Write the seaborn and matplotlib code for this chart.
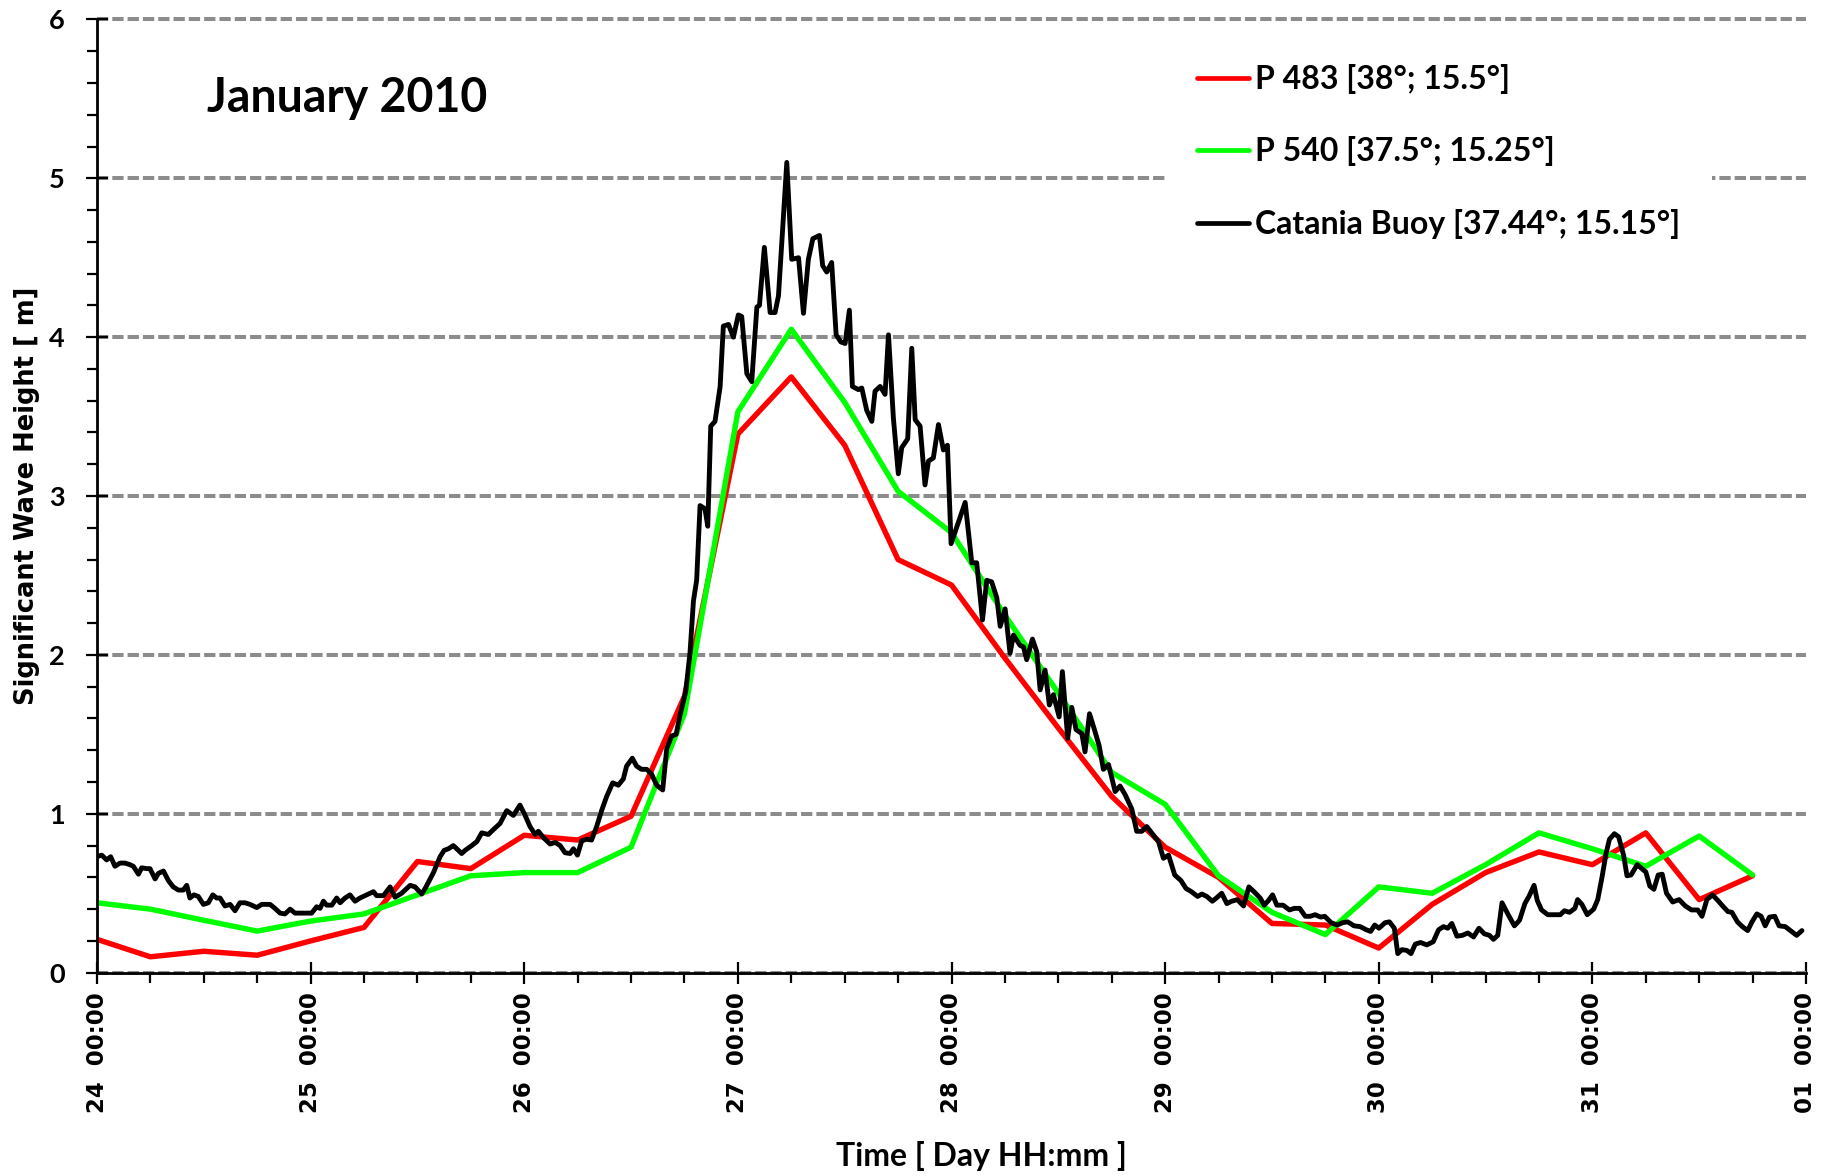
import matplotlib
matplotlib.use("Agg")
import matplotlib.pyplot as plt
from matplotlib.ticker import MultipleLocator, FixedLocator
import seaborn as sns
import pandas as pd

# ---------------- data ----------------
tick_labels = ["24  00:00", "25  00:00", "26  00:00", "27  00:00", "28  00:00",
               "29  00:00", "30  00:00", "31  00:00", "01  00:00"]

# model output every 6 h (days since 24 Jan 00:00)
model_day = [0.0, 0.25, 0.5, 0.75, 1.0, 1.25, 1.5, 1.75, 2.0, 2.25, 2.5, 2.75,
             3.0, 3.25, 3.5, 3.75, 4.0, 4.25, 4.5, 4.75, 5.0, 5.25, 5.5, 5.75,
             6.0, 6.25, 6.5, 6.75, 7.0, 7.25, 7.5, 7.75]
p483 = [0.21, 0.10, 0.135, 0.11, 0.20, 0.285, 0.70, 0.655, 0.865, 0.835, 0.985, 1.74,
        3.39, 3.75, 3.32, 2.60, 2.44, 1.98, 1.54, 1.11, 0.79, 0.60, 0.31, 0.30,
        0.155, 0.43, 0.63, 0.76, 0.68, 0.88, 0.46, 0.61]
p540 = [0.44, 0.40, 0.33, 0.262, 0.325, 0.37, 0.49, 0.61, 0.63, 0.63, 0.79, 1.63,
        3.53, 4.05, 3.59, 3.03, 2.77, 2.25, 1.76, 1.26, 1.06, 0.61, 0.38, 0.24,
        0.54, 0.50, 0.68, 0.88, 0.78, 0.67, 0.86, 0.615]

buoy_day = [0.000, 0.022, 0.045, 0.064, 0.084, 0.108, 0.131, 0.154, 0.170, 0.194,
            0.209, 0.233, 0.248, 0.272, 0.287, 0.311, 0.334, 0.357, 0.381, 0.404,
            0.420, 0.435, 0.454, 0.474, 0.498, 0.521, 0.542, 0.560, 0.576, 0.599,
            0.623, 0.646, 0.669, 0.693, 0.716, 0.748, 0.771, 0.810, 0.833, 0.857,
            0.880, 0.904, 0.927, 0.950, 0.982, 1.005, 1.028, 1.044, 1.060, 1.075,
            1.099, 1.122, 1.138, 1.161, 1.184, 1.208, 1.231, 1.262, 1.294, 1.309,
            1.341, 1.372, 1.395, 1.426, 1.466, 1.489, 1.520, 1.536, 1.575, 1.606,
            1.625, 1.645, 1.668, 1.684, 1.707, 1.723, 1.754, 1.778, 1.801, 1.832,
            1.855, 1.887, 1.918, 1.949, 1.980,
            2.004, 2.027, 2.051, 2.066, 2.090, 2.121, 2.145, 2.168, 2.191, 2.215,
            2.230, 2.249, 2.269, 2.292, 2.315, 2.339, 2.362, 2.386, 2.414, 2.440,
            2.464, 2.479, 2.506, 2.526, 2.549, 2.573, 2.596, 2.620, 2.648, 2.667,
            2.690, 2.711, 2.729, 2.756, 2.776, 2.792, 2.807, 2.823, 2.846, 2.859,
            2.873, 2.893, 2.917, 2.932, 2.956, 2.979, 3.002, 3.018, 3.042, 3.065,
            3.089, 3.101, 3.124, 3.151, 3.174, 3.190, 3.229, 3.252, 3.284, 3.307,
            3.330, 3.351, 3.382, 3.397, 3.416, 3.439, 3.460, 3.482, 3.502, 3.522,
            3.536, 3.564, 3.580, 3.603, 3.627, 3.642, 3.666, 3.689, 3.705, 3.728,
            3.751, 3.767, 3.795, 3.814, 3.830, 3.853, 3.876, 3.892, 3.915, 3.939,
            3.962, 3.981,
            3.998, 4.064, 4.095, 4.118, 4.145, 4.165, 4.188, 4.212, 4.228, 4.251,
            4.274, 4.290, 4.321, 4.337, 4.352, 4.379, 4.399, 4.415, 4.438, 4.458,
            4.477, 4.504, 4.519, 4.544, 4.563, 4.583, 4.610, 4.625, 4.646, 4.669,
            4.691, 4.711, 4.735, 4.766, 4.789, 4.813, 4.844, 4.867, 4.891, 4.914,
            4.937, 4.969, 4.992, 5.016,
            5.045, 5.074, 5.098, 5.123, 5.152, 5.172, 5.195, 5.221, 5.240, 5.265,
            5.289, 5.312, 5.338, 5.367, 5.392, 5.416, 5.445, 5.464, 5.484, 5.503,
            5.523, 5.552, 5.582, 5.605, 5.630, 5.656, 5.679, 5.702, 5.728, 5.747,
            5.777, 5.806, 5.831, 5.855, 5.884, 5.913, 5.942, 5.962, 5.981, 6.001,
            6.030, 6.050, 6.073, 6.089, 6.108, 6.132, 6.151, 6.171, 6.196, 6.225,
            6.255, 6.280, 6.303, 6.323, 6.342, 6.366, 6.391, 6.417, 6.444, 6.469,
            6.494, 6.518, 6.537, 6.557, 6.577, 6.606, 6.635, 6.659, 6.684, 6.703,
            6.727, 6.742, 6.762, 6.791, 6.821, 6.850, 6.869, 6.893, 6.918, 6.931,
            6.951, 6.976, 7.006, 7.025, 7.045, 7.064, 7.080, 7.103, 7.123, 7.146,
            7.162, 7.181, 7.210, 7.240, 7.250, 7.269, 7.288, 7.308, 7.327, 7.347,
            7.376, 7.406, 7.435, 7.464, 7.493, 7.513, 7.536, 7.562, 7.587, 7.610,
            7.634, 7.653, 7.679, 7.702, 7.727, 7.747, 7.770, 7.790, 7.809, 7.829,
            7.854, 7.874, 7.903, 7.927, 7.956, 7.981]
buoy_hs = [0.73, 0.74, 0.71, 0.73, 0.67, 0.69, 0.69, 0.68, 0.67, 0.62,
           0.66, 0.655, 0.655, 0.59, 0.625, 0.64, 0.58, 0.54, 0.52, 0.52,
           0.55, 0.47, 0.49, 0.48, 0.43, 0.44, 0.49, 0.47, 0.47, 0.42,
           0.43, 0.39, 0.44, 0.44, 0.43, 0.41, 0.43, 0.43, 0.405, 0.375,
           0.37, 0.40, 0.375, 0.375, 0.375, 0.375, 0.415, 0.405, 0.45, 0.425,
           0.425, 0.47, 0.44, 0.47, 0.49, 0.45, 0.47, 0.49, 0.51, 0.485,
           0.485, 0.54, 0.475, 0.50, 0.55, 0.54, 0.495, 0.53, 0.63, 0.73,
           0.77, 0.78, 0.80, 0.78, 0.75, 0.77, 0.80, 0.825, 0.88, 0.87,
           0.90, 0.94, 1.02, 0.99, 1.055,
           0.99, 0.92, 0.87, 0.89, 0.85, 0.81, 0.82, 0.80, 0.755, 0.75,
           0.78, 0.74, 0.83, 0.84, 0.835, 0.92, 1.02, 1.11, 1.195, 1.18,
           1.22, 1.30, 1.35, 1.30, 1.28, 1.28, 1.25, 1.18, 1.15, 1.41,
           1.49, 1.50, 1.62, 1.77, 2.015, 2.34, 2.47, 2.94, 2.92, 2.81,
           3.44, 3.47, 3.69, 4.07, 4.08, 4.00, 4.14, 4.13, 3.77, 3.72,
           4.19, 4.20, 4.565, 4.155, 4.155, 4.26, 5.10, 4.49, 4.50, 4.15,
           4.49, 4.62, 4.64, 4.45, 4.41, 4.47, 4.015, 3.97, 3.96, 4.17,
           3.69, 3.67, 3.68, 3.54, 3.47, 3.66, 3.69, 3.64, 4.015, 3.49,
           3.14, 3.305, 3.36, 3.93, 3.48, 3.44, 3.07, 3.22, 3.24, 3.45,
           3.29, 3.32,
           2.70, 2.96, 2.58, 2.58, 2.22, 2.47, 2.46, 2.36, 2.18, 2.29,
           2.01, 2.125, 2.06, 2.05, 1.97, 2.10, 2.02, 1.78, 1.905, 1.685,
           1.75, 1.61, 1.895, 1.475, 1.67, 1.53, 1.505, 1.39, 1.63, 1.53,
           1.43, 1.28, 1.31, 1.14, 1.175, 1.12, 1.03, 0.89, 0.89, 0.92,
           0.88, 0.825, 0.72, 0.74,
           0.615, 0.58, 0.53, 0.51, 0.48, 0.495, 0.48, 0.45, 0.47, 0.50,
           0.435, 0.45, 0.46, 0.42, 0.54, 0.51, 0.47, 0.425, 0.455, 0.49,
           0.425, 0.425, 0.395, 0.405, 0.405, 0.355, 0.355, 0.365, 0.35, 0.355,
           0.315, 0.30, 0.315, 0.32, 0.295, 0.29, 0.27, 0.26, 0.30, 0.28,
           0.315, 0.32, 0.28, 0.12, 0.145, 0.14, 0.12, 0.18, 0.19, 0.175,
           0.195, 0.27, 0.29, 0.28, 0.31, 0.23, 0.235, 0.25, 0.225, 0.28,
           0.245, 0.235, 0.21, 0.235, 0.44, 0.365, 0.295, 0.33, 0.435, 0.48,
           0.55, 0.455, 0.395, 0.365, 0.365, 0.365, 0.39, 0.38, 0.405, 0.46,
           0.43, 0.365, 0.40, 0.46, 0.60, 0.75, 0.84, 0.875, 0.855, 0.74,
           0.61, 0.615, 0.68, 0.645, 0.635, 0.545, 0.525, 0.615, 0.62, 0.50,
           0.445, 0.46, 0.42, 0.395, 0.395, 0.355, 0.46, 0.49, 0.455, 0.42,
           0.385, 0.38, 0.32, 0.29, 0.265, 0.32, 0.37, 0.355, 0.295, 0.35,
           0.355, 0.295, 0.29, 0.265, 0.235, 0.265]

series_labels = ["P 483 [38°; 15.5°]", "P 540 [37.5°; 15.25°]", "Catania Buoy [37.44°; 15.15°]"]
series_colors = ["#ff0000", "#00ff00", "#000000"]

# ---------------- style ----------------
sns.set_theme(style="ticks")
plt.rcParams["font.family"] = ["DejaVu Sans"]
for k in ["text.color", "axes.labelcolor", "xtick.color", "ytick.color", "axes.edgecolor"]:
    plt.rcParams[k] = "black"
NARROW = ["Lato", "DejaVu Sans"]

W, H = 1822, 1176
fig = plt.figure(figsize=(W / 100, H / 100), dpi=100)
ax = fig.add_axes([97 / W, 1 - 972.7 / H, (1806 - 97) / W, (972.7 - 19.4) / H])

df_model = pd.DataFrame({"day": model_day, "p483": p483, "p540": p540})
df_buoy = pd.DataFrame({"day": buoy_day, "hs": buoy_hs})

sns.lineplot(data=df_model, x="day", y="p483", color=series_colors[0], lw=3.9,
             ax=ax, label=series_labels[0], estimator=None, sort=False)
sns.lineplot(data=df_model, x="day", y="p540", color=series_colors[1], lw=3.9,
             ax=ax, label=series_labels[1], estimator=None, sort=False)
sns.lineplot(data=df_buoy, x="day", y="hs", color=series_colors[2], lw=3.5,
             ax=ax, label=series_labels[2], estimator=None, sort=False)

ax.set_xlim(0, 8)
ax.set_ylim(0, 6)
ax.xaxis.set_major_locator(FixedLocator(list(range(9))))
ax.set_xticklabels(tick_labels, rotation=90, fontsize=16.5, fontweight="bold",
                   family="DejaVu Sans")
ax.xaxis.set_minor_locator(MultipleLocator(0.25))
ax.yaxis.set_major_locator(MultipleLocator(1))
ax.yaxis.set_minor_locator(MultipleLocator(0.2))
for lab in ax.get_yticklabels():
    lab.set_family(NARROW)
    lab.set_fontsize(19.5)
    lab.set_fontweight("bold")

ax.tick_params(which="major", direction="inout", length=16, width=1.6, color="black")
ax.tick_params(which="minor", direction="out", length=7, width=1.6, color="black")
ax.tick_params(axis="x", which="major", pad=6)
ax.tick_params(axis="y", which="major", pad=15)

for s in ["top", "right"]:
    ax.spines[s].set_visible(False)
for s in ["left", "bottom"]:
    ax.spines[s].set_linewidth(2.0)
    ax.spines[s].set_color("black")

ax.yaxis.grid(True, which="major", color="#8c8c8c", lw=2.9, ls=(0, (2.8, 1.0)))
ax.xaxis.grid(False)
ax.set_axisbelow(True)
for gl in ax.get_ygridlines():
    gl.set_clip_on(False)

ax.set_xlabel("Time [ Day HH:mm ]", family=NARROW, fontsize=23, fontweight="bold")
ax.set_ylabel("Significant Wave Height [ m]", family="DejaVu Sans", fontsize=18.5,
              fontweight="bold")
ax.xaxis.set_label_coords((981 - 97) / (1806 - 97), -(1156 - 972.7) / (972.7 - 19.4))
ax.yaxis.set_label_coords(-(97 - 27) / (1806 - 97), 0.5)
ax.xaxis.label.set_va("center")
ax.yaxis.label.set_va("center")

fig.text(207 / W, 1 - 112 / H, "January 2010", family=NARROW, fontsize=33.5,
         fontweight="bold", ha="left", va="baseline")

leg = ax.legend(loc="upper left", bbox_to_anchor=(1165 / W, 1 - 32 / H),
                bbox_transform=fig.transFigure, frameon=True, facecolor="white",
                edgecolor="none", framealpha=1, fancybox=False, borderaxespad=0,
                borderpad=1.0, handlelength=1.63, handletextpad=0.2,
                labelspacing=1.33, prop={"family": NARROW, "size": 23, "weight": "bold"})
for line in leg.get_lines():
    line.set_linewidth(3.4)

fig.savefig("out.png", dpi=100)
